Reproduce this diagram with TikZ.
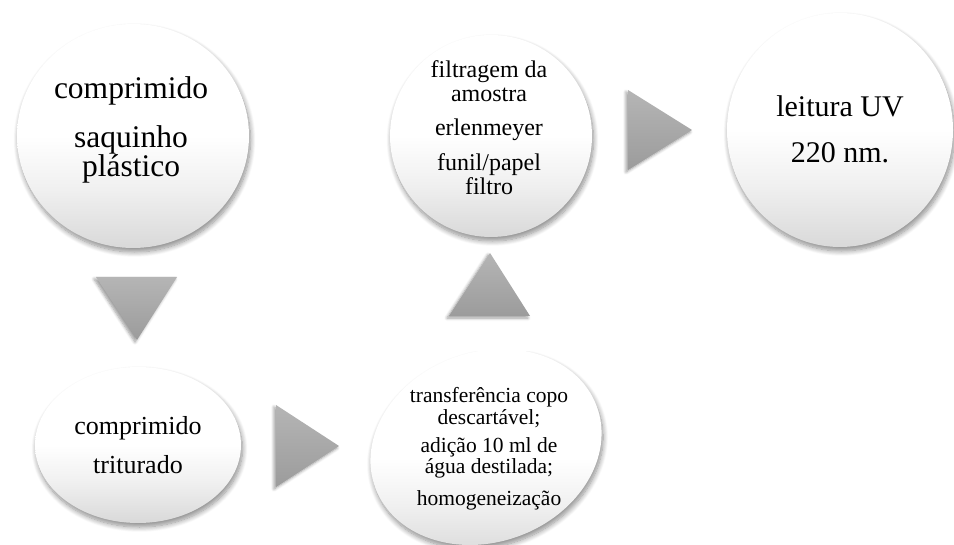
\documentclass[tikz,border=0pt]{standalone}
\usepackage{fontspec}
\setmainfont{Liberation Serif}
\usetikzlibrary{shadows.blur}
\pgfdeclareverticalshading{bubble}{100bp}{color(0bp)=(black!15); color(25bp)=(black!15); color(38bp)=(black!6); color(50bp)=(white); color(100bp)=(white)}
\tikzset{
  bub/.style={draw=none, shading=bubble, inner sep=0pt,
    blur shadow={shadow xshift=1.5pt, shadow yshift=-4pt, shadow blur steps=10, shadow blur radius=5pt, shadow opacity=45}},
  tri/.style={top color=black!29, bottom color=black!39, draw=none,
    blur shadow={shadow xshift=-2pt, shadow yshift=-2pt, shadow blur steps=6, shadow blur radius=3pt, shadow opacity=40}},
  txt/.style={anchor=base, inner sep=0pt, text=black},
}
\begin{document}
\begin{tikzpicture}[x=1pt,y=-1pt]
\useasboundingbox (0,0) rectangle (954,545);
% circles
\path[bub] (133,136) ellipse [x radius=116, y radius=112];
\coordinate (c1) at (133,136);
\path[bub] (138,445) ellipse [x radius=103, y radius=78];
\coordinate (c2) at (138,445);
\path[bub, rotate around={20:(486,447)}] (486,447) ellipse [x radius=118, y radius=95];
\coordinate (c3) at (486,447);
\path[bub] (491,136) ellipse [x radius=101, y radius=101];
\coordinate (c4) at (491,136);
\path[bub] (840,130) ellipse [x radius=113, y radius=117];
\coordinate (c5) at (840,130);
% triangles (arrows)
\path[tri] (96,277) -- (177,277) -- (137,340) -- cycle;
\path[tri] (276,405) -- (339,446) -- (276,487) -- cycle;
\path[tri] (449,316) -- (490,253) -- (530,316) -- cycle;
\path[tri] (628,90) -- (692,130) -- (628,170) -- cycle;
% texts
\begin{scope}[font=\fontsize{31.5}{31.5}\selectfont]
\node[txt] (t1a) at (131,99) {comprimido};
\node[txt] (t1b) at (131,148) {saquinho};
\node[txt] (t1c) at (131,177) {plástico};
\end{scope}
\begin{scope}[font=\fontsize{26}{26}\selectfont]
\node[txt] (t2a) at (138,435) {comprimido};
\node[txt] (t2b) at (138,473) {triturado};
\end{scope}
\begin{scope}[font=\fontsize{21.5}{21.5}\selectfont]
\node[txt] (t3a) at (489,403) {transferência copo};
\node[txt] (t3b) at (489,425) {descartável;};
\node[txt] (t3c) at (489,453) {adição 10 ml de};
\node[txt] (t3d) at (489,474) {água destilada;};
\node[txt] (t3e) at (489,505) {homogeneização};
\end{scope}
\begin{scope}[font=\fontsize{24}{24}\selectfont]
\node[txt] (t4a) at (489,78) {filtragem da};
\node[txt] (t4b) at (489,102) {amostra};
\node[txt] (t4c) at (489,136) {erlenmeyer};
\node[txt] (t4d) at (489,171) {funil/papel};
\node[txt] (t4e) at (489,195) {filtro};
\end{scope}
\begin{scope}[font=\fontsize{30}{30}\selectfont]
\node[txt] (t5a) at (840,117) {leitura UV};
\node[txt] (t5b) at (840,163) {220 nm.};
\end{scope}
\end{tikzpicture}
\end{document}
